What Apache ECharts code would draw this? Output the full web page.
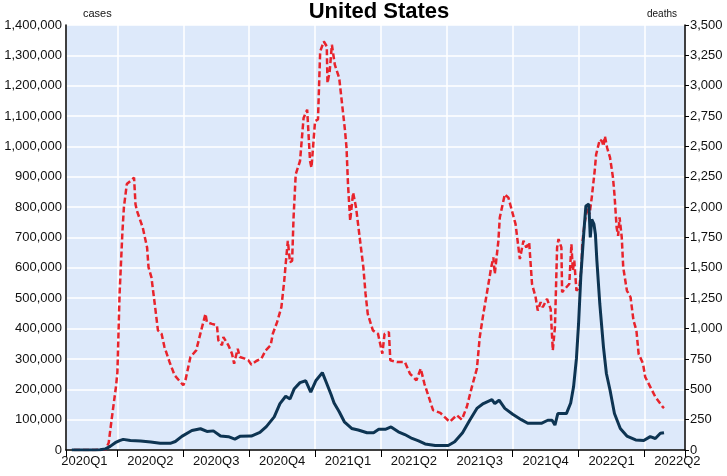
<!DOCTYPE html>
<html>
<head>
<meta charset="utf-8">
<title>United States</title>
<script src="https://cdn.jsdelivr.net/npm/echarts@6/dist/echarts.min.js"></script>
<style>
  html, body { margin: 0; padding: 0; background: #fff; }
  #chart { width: 727px; height: 476px; }
</style>
</head>
<body>
<div id="chart"></div>
<script>
// quarter labels along the bottom
const quarterLabels = ['2020Q1', '2020Q2', '2020Q3', '2020Q4', '2021Q1', '2021Q2', '2021Q3', '2021Q4', '2022Q1', '2022Q2']
const xStart = '2020-01-21'
const xEnd = '2022-05-27'

// new cases, 7 day average (left axis)
const caseDates = [
  '2020-01-29', '2020-02-15', '2020-03-01', '2020-03-08', '2020-03-15', '2020-03-22', '2020-03-29', '2020-04-04',
  '2020-04-09', '2020-04-19', '2020-05-03', '2020-05-17', '2020-05-30', '2020-06-13', '2020-06-20', '2020-06-29',
  '2020-07-13', '2020-07-25', '2020-08-03', '2020-08-12', '2020-08-22', '2020-09-02', '2020-09-11', '2020-09-18',
  '2020-10-04', '2020-10-16', '2020-10-25', '2020-11-05', '2020-11-13', '2020-11-21', '2020-11-27', '2020-12-03',
  '2020-12-11', '2020-12-19', '2020-12-26', '2021-01-02', '2021-01-11', '2021-01-16', '2021-01-23', '2021-01-27',
  '2021-02-03', '2021-02-10', '2021-02-20', '2021-03-01', '2021-03-13', '2021-03-22', '2021-03-29', '2021-04-07',
  '2021-04-15', '2021-04-25', '2021-05-04', '2021-05-14', '2021-05-23', '2021-06-01', '2021-06-15', '2021-07-03',
  '2021-07-12', '2021-07-23', '2021-08-02', '2021-08-12', '2021-08-21', '2021-09-02', '2021-09-06', '2021-09-12',
  '2021-09-20', '2021-10-01', '2021-10-13', '2021-10-22', '2021-11-10', '2021-11-19', '2021-11-25', '2021-11-29',
  '2021-12-03', '2021-12-15', '2021-12-21', '2021-12-25', '2021-12-29', '2022-01-01', '2022-01-04', '2022-01-08',
  '2022-01-11', '2022-01-15', '2022-01-17', '2022-01-19', '2022-01-22', '2022-01-24', '2022-01-26', '2022-01-30',
  '2022-02-04', '2022-02-08', '2022-02-13', '2022-02-19', '2022-02-27', '2022-03-08', '2022-03-20', '2022-03-31',
  '2022-04-09', '2022-04-16', '2022-04-23', '2022-04-28'
]
const cases = [
  0, 0, 100, 600, 3000, 12000, 24000, 31000,
  35000, 31000, 30000, 26000, 22000, 22000, 28000, 45000,
  64000, 70000, 61000, 63000, 46000, 44000, 36000, 45000,
  46000, 58000, 77000, 109000, 153000, 177000, 168000, 202000,
  222000, 228000, 191000, 228000, 255000, 225000, 182000, 155000,
  126000, 93000, 71000, 66000, 57000, 57000, 68000, 68000,
  76000, 60000, 51000, 38000, 30000, 20000, 15000, 15000,
  27000, 57000, 98000, 137000, 153000, 166000, 153000, 164000,
  137000, 118000, 100000, 88000, 88000, 98000, 98000, 82000,
  120000, 120000, 155000, 208000, 301000, 416000, 569000, 711000,
  804000, 810000, 700000, 760000, 744000, 711000, 624000, 481000,
  339000, 252000, 197000, 120000, 71000, 46000, 33000, 31000,
  44000, 38000, 55000, 57000
]

// deaths, 7 day average (right axis)
const deathDates = [
  '2020-02-01', '2020-03-01', '2020-03-16', '2020-03-20', '2020-03-24', '2020-03-30', '2020-04-01', '2020-04-04',
  '2020-04-08', '2020-04-10', '2020-04-14', '2020-04-19', '2020-04-24', '2020-04-26', '2020-04-28', '2020-05-06',
  '2020-05-12', '2020-05-14', '2020-05-18', '2020-05-22', '2020-05-27', '2020-06-01', '2020-06-05', '2020-06-12',
  '2020-06-19', '2020-07-01', '2020-07-04', '2020-07-11', '2020-07-19', '2020-07-26', '2020-08-01', '2020-08-03',
  '2020-08-10', '2020-08-17', '2020-08-19', '2020-08-24', '2020-08-26', '2020-09-02', '2020-09-07', '2020-09-10',
  '2020-09-15', '2020-09-18', '2020-09-25', '2020-09-30', '2020-10-04', '2020-10-11', '2020-10-18', '2020-10-24',
  '2020-10-31', '2020-11-03', '2020-11-09', '2020-11-15', '2020-11-19', '2020-11-21', '2020-11-24', '2020-11-27',
  '2020-11-30', '2020-12-02', '2020-12-05', '2020-12-11', '2020-12-16', '2020-12-21', '2020-12-25', '2020-12-27',
  '2021-01-01', '2021-01-05', '2021-01-08', '2021-01-13', '2021-01-17', '2021-01-18', '2021-01-21', '2021-01-24',
  '2021-01-28', '2021-02-03', '2021-02-07', '2021-02-11', '2021-02-13', '2021-02-15', '2021-02-18', '2021-02-22',
  '2021-02-26', '2021-03-03', '2021-03-08', '2021-03-11', '2021-03-14', '2021-03-21', '2021-03-28', '2021-04-03',
  '2021-04-06', '2021-04-12', '2021-04-14', '2021-04-23', '2021-05-04', '2021-05-11', '2021-05-20', '2021-05-26',
  '2021-05-31', '2021-06-06', '2021-06-12', '2021-06-22', '2021-07-05', '2021-07-15', '2021-07-22', '2021-07-29',
  '2021-08-05', '2021-08-12', '2021-08-16', '2021-08-21', '2021-08-25', '2021-09-01', '2021-09-04', '2021-09-06',
  '2021-09-11', '2021-09-13', '2021-09-20', '2021-09-25', '2021-09-30', '2021-10-05', '2021-10-09', '2021-10-11',
  '2021-10-16', '2021-10-20', '2021-10-24', '2021-10-28', '2021-11-02', '2021-11-05', '2021-11-09', '2021-11-12',
  '2021-11-18', '2021-11-23', '2021-11-26', '2021-11-29', '2021-12-02', '2021-12-04', '2021-12-08', '2021-12-09',
  '2021-12-15', '2021-12-19', '2021-12-22', '2021-12-24', '2021-12-26', '2021-12-29', '2022-01-02', '2022-01-05',
  '2022-01-06', '2022-01-09', '2022-01-13', '2022-01-16', '2022-01-19', '2022-01-23', '2022-01-25', '2022-01-30',
  '2022-02-02', '2022-02-04', '2022-02-06', '2022-02-09', '2022-02-13', '2022-02-17', '2022-02-19', '2022-02-22',
  '2022-02-24', '2022-02-26', '2022-03-01', '2022-03-03', '2022-03-08', '2022-03-13', '2022-03-17', '2022-03-21',
  '2022-03-24', '2022-03-30', '2022-04-02', '2022-04-09', '2022-04-16', '2022-04-21', '2022-04-26', '2022-04-28'
]
const deaths = [
  0, 0, 5, 60, 250, 520, 640, 1285,
  1805, 2000, 2190, 2215, 2243, 2024, 1970, 1832,
  1668, 1504, 1422, 1231, 985, 957, 848, 725,
  615, 533, 574, 766, 820, 985, 1121, 1053,
  1039, 1026, 903, 862, 930, 862, 793, 711,
  834, 766, 752, 738, 703, 733, 752, 820,
  862, 957, 1053, 1176, 1395, 1532, 1723, 1545,
  1559, 1915, 2270, 2380, 2735, 2803, 2380, 2325,
  2708, 2722, 3282, 3364, 3324, 3022, 3118, 3337,
  3173, 3063, 2845, 2626, 2489, 2188, 1887, 2120,
  1997, 1750, 1504, 1285, 1121, 985, 957, 793,
  957, 971, 738, 725, 725, 629, 574, 670,
  547, 438, 328, 306, 232, 287, 250, 356,
  520, 670, 930, 1121, 1258, 1504, 1586, 1450,
  1723, 1915, 2106, 2078, 1969, 1860, 1668, 1572,
  1723, 1668, 1710, 1367, 1258, 1149, 1217, 1176,
  1244, 1162, 820, 1012, 1668, 1737, 1668, 1299,
  1340, 1367, 1695, 1477, 1559, 1313, 1340, 1504,
  1695, 1860, 1997, 1942, 2079, 2298, 2434, 2557,
  2543, 2502, 2584, 2489, 2407, 2243, 2106, 1832,
  1764, 1915, 1750, 1504, 1313, 1258, 1067, 985,
  793, 711, 602, 520, 438, 397, 356, 345
]

// date -> position in quarters (2020-01-01 = 0, 2020-04-01 = 1, ...)
function toQuarter (s) {
  let p = s.split('-').map(Number)
  let q0 = Math.floor((p[1] - 1) / 3) * 3
  let start = Date.UTC(p[0], q0, 1)
  let end = Date.UTC(p[0], q0 + 3, 1)
  return (p[0] - 2020) * 4 + q0 / 3 + (Date.UTC(p[0], p[1] - 1, p[2]) - start) / (end - start)
}

function thousands (v) {
  return String(v).replace(/\B(?=(\d{3})+(?!\d))/g, ',')
}

const xMin = toQuarter(xStart)
const xMax = toQuarter(xEnd)
const labelFont = 'Liberation Sans'

let chart = echarts.init(document.getElementById('chart'))
chart.setOption({
  animation: false,
  backgroundColor: '#fff',
  title: {
    text: 'United States',
    left: 379,
    top: 1,
    textAlign: 'center',
    padding: 0,
    textStyle: { fontSize: 22, fontWeight: 'bold', color: '#000', fontFamily: 'Liberation Sans' }
  },
  grid: {
    left: 66,
    right: 42,
    top: 25,
    bottom: 26,
    show: true,
    backgroundColor: '#dde9fa',
    borderWidth: 0
  },
  xAxis: [{
    type: 'value',
    min: xMin,
    max: xMax,
    minInterval: 1,
    maxInterval: 1,
    axisLine: { show: true, onZero: false, lineStyle: { color: '#000', width: 1.5 } },
    axisTick: { show: true, length: 7, lineStyle: { color: '#000' } },
    axisLabel: { show: false },
    splitLine: { show: true, lineStyle: { color: '#fff', width: 1.5 } }
  }, {
    // same scale shifted half a quarter, so labels sit mid-quarter
    type: 'value',
    position: 'bottom',
    min: xMin - 0.5,
    max: xMax - 0.5,
    minInterval: 1,
    maxInterval: 1,
    axisLine: { show: false, onZero: false },
    axisTick: { show: false },
    splitLine: { show: false },
    axisLabel: {
      margin: 5,
      color: '#111',
      fontSize: 13,
      fontFamily: labelFont,
      formatter: function (v) {
        return Number.isInteger(v) && quarterLabels[v] ? quarterLabels[v] : ''
      }
    }
  }],
  yAxis: [{
    type: 'value',
    name: 'cases',
    nameLocation: 'end',
    nameGap: 6,
    nameTextStyle: { color: '#111', fontSize: 11, fontFamily: labelFont, align: 'left', padding: [0, 0, 0, 17] },
    min: 0,
    max: 1400000,
    interval: 100000,
    axisLine: { show: true, onZero: false, lineStyle: { color: '#000', width: 1.5 } },
    axisTick: { show: false },
    axisLabel: { margin: 4, color: '#111', fontSize: 13, fontFamily: labelFont, formatter: thousands },
    splitLine: { show: true, lineStyle: { color: '#fff', width: 1.5 } }
  }, {
    type: 'value',
    position: 'right',
    name: 'deaths',
    nameLocation: 'end',
    nameGap: 6,
    nameTextStyle: { color: '#111', fontSize: 10, fontFamily: labelFont, align: 'right', padding: [0, 8, 0, 0] },
    min: 0,
    max: 3500,
    interval: 250,
    axisLine: { show: true, onZero: false, lineStyle: { color: '#000', width: 1.5 } },
    axisTick: { show: true, length: 4, lineStyle: { color: '#000' } },
    axisLabel: { margin: 5, color: '#111', fontSize: 13, fontFamily: labelFont, formatter: thousands },
    splitLine: { show: false }
  }],
  series: [{
    name: 'deaths',
    type: 'line',
    xAxisIndex: 0,
    yAxisIndex: 1,
    showSymbol: false,
    silent: true,
    lineStyle: { color: '#e8232b', width: 2.5, type: [6, 3] },
    data: deathDates.map((d, i) => [toQuarter(d), deaths[i]])
  }, {
    name: 'cases',
    type: 'line',
    xAxisIndex: 0,
    yAxisIndex: 0,
    showSymbol: false,
    silent: true,
    lineStyle: { color: '#0d3452', width: 3 },
    data: caseDates.map((d, i) => [toQuarter(d), cases[i]])
  }]
})
</script>
</body>
</html>
